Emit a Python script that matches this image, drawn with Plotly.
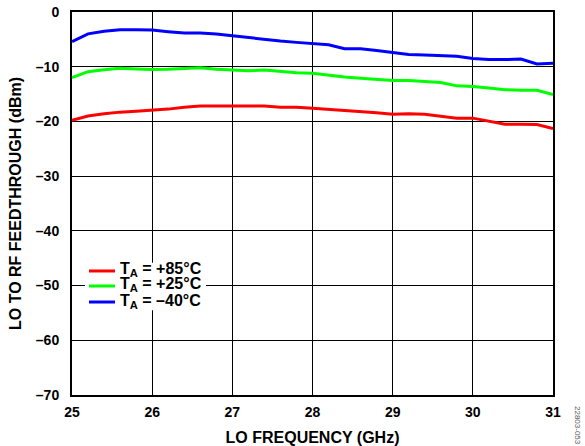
import plotly.graph_objects as go

freq_ghz = [25.0, 25.2, 25.4, 25.6, 25.8, 26.0, 26.2, 26.4, 26.6, 26.8,
            27.0, 27.2, 27.4, 27.6, 27.8, 28.0, 28.2, 28.4, 28.6, 28.8,
            29.0, 29.2, 29.4, 29.6, 29.8, 30.0, 30.2, 30.4, 30.6, 30.8, 31.0]

feed_85c = [-19.8, -19.0, -18.6, -18.3, -18.15, -18.0, -17.75, -17.4, -17.2, -17.2,
            -17.2, -17.3, -17.2, -17.4, -17.4, -17.6, -17.8, -17.95, -18.2, -18.4,
            -18.7, -18.6, -18.7, -19.05, -19.4, -19.4, -19.9, -20.5, -20.5, -20.55, -21.3]

feed_25c = [-12.0, -10.9, -10.55, -10.3, -10.4, -10.5, -10.45, -10.3, -10.2, -10.45,
            -10.6, -10.75, -10.6, -10.9, -11.1, -11.2, -11.6, -11.9, -12.1, -12.3,
            -12.5, -12.5, -12.7, -12.9, -13.5, -13.6, -13.9, -14.2, -14.3, -14.3, -15.1]

feed_m40c = [-5.4, -4.0, -3.5, -3.25, -3.25, -3.3, -3.6, -3.85, -3.85, -4.0,
             -4.35, -4.7, -4.95, -5.3, -5.55, -5.8, -6.0, -6.7, -6.7, -7.05,
             -7.4, -7.75, -7.85, -7.95, -8.1, -8.5, -8.7, -8.7, -8.6, -9.5, -9.35]

series_names = ["T<sub>A</sub> = +85°C", "T<sub>A</sub> = +25°C", "T<sub>A</sub> = –40°C"]
series_colors = ["#ff0000", "#00ff00", "#0000ff"]

x_ticks = [25, 26, 27, 28, 29, 30, 31]
x_tick_text = ["25", "26", "27", "28", "29", "30", "31"]
y_ticks = [0, -10, -20, -30, -40, -50, -60, -70]
y_tick_text = ["0", "–10", "–20", "–30", "–40", "–50", "–60", "–70"]

FONT = "Arial, Liberation Sans, sans-serif"

fig = go.Figure()
for name, ys, col in zip(series_names, [feed_85c, feed_25c, feed_m40c], series_colors):
    fig.add_trace(go.Scatter(x=freq_ghz, y=ys, mode="lines", name=name,
                             line=dict(color=col, width=3), showlegend=False))

axis_common = dict(showgrid=True, gridcolor="black", gridwidth=1,
                   showline=True, linecolor="black", linewidth=2, mirror=True,
                   ticks="", zeroline=False, automargin=False,
                   tickfont=dict(family=FONT, size=14, color="black"))

fig.update_xaxes(range=[25, 31], tickvals=x_ticks,
                 ticktext=["<b>" + t + "</b>" for t in x_tick_text],
                 ticklabelstandoff=3,
                 title=dict(text="<b>LO FREQUENCY (GHz)</b>", standoff=14,
                            font=dict(family=FONT, size=16, color="black")),
                 **axis_common)
fig.update_yaxes(range=[-70, 0], tickvals=y_ticks,
                 ticktext=["<b>" + t + "</b>" for t in y_tick_text],
                 ticklabelstandoff=8,
                 title=dict(text="<b>LO TO RF FEEDTHROUGH (dBm)</b>", standoff=10,
                            font=dict(family=FONT, size=16, color="black")),
                 **axis_common)

# manual compact legend (layout only)
legend_rows_y = [0.3238, 0.2846, 0.2428]
shapes = [dict(type="rect", xref="paper", yref="paper", x0=0.027, x1=0.2786,
               y0=0.221, y1=0.345, fillcolor="white", line=dict(width=0), layer="above")]
annotations = []
for name, col, yy in zip(series_names, series_colors, legend_rows_y):
    shapes.append(dict(type="line", xref="paper", yref="paper", x0=0.0353, x1=0.0894,
                       y0=yy, y1=yy, line=dict(color=col, width=3), layer="above"))
    annotations.append(dict(text="<b>" + name + "</b>", xref="paper", yref="paper",
                            x=0.0977, y=yy, xanchor="left", yanchor="middle",
                            showarrow=False, yshift=1, borderpad=0,
                            font=dict(family=FONT, size=16, color="black")))

annotations.append(dict(text="22803-053", x=1.0, y=0.0, xref="paper", yref="paper",
                        xanchor="center", yanchor="middle", xshift=25, yshift=-30,
                        textangle=90, showarrow=False,
                        font=dict(family=FONT, size=8, color="#555555")))

fig.update_layout(
    width=585, height=446,
    margin=dict(l=72, r=32, t=12, b=51, autoexpand=False),
    plot_bgcolor="white", paper_bgcolor="white",
    showlegend=False,
    shapes=shapes,
    annotations=annotations,
)

fig.write_html("out.html", config={"displayModeBar": False},
               post_script="document.body.style.margin='0';document.body.style.padding='0';")
